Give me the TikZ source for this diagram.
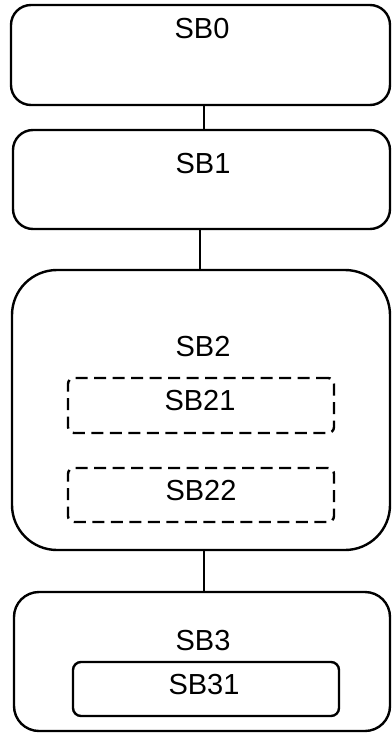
\documentclass[tikz,border=0pt]{standalone}
\usepackage{fontspec}
\setmainfont{Liberation Sans}
\begin{document}
\begin{tikzpicture}[x=1pt,y=-1pt,
  box/.style={draw,line width=2.4pt,inner sep=0pt,outer sep=0pt},
  dbox/.style={draw,line width=2.4pt,inner sep=0pt,outer sep=0pt,dash pattern=on 12pt off 6.5pt,rounded corners=6pt},
  lbl/.style={anchor=base,inner sep=0pt,font=\fontsize{29}{32}\selectfont},
  conn/.style={line width=1.4pt}]
\useasboundingbox (0,0) rectangle (391,733);
\node[box,rounded corners=20pt,minimum width=379pt,minimum height=100pt] (sb0) at (200.5,55) {};
\node[box,rounded corners=20pt,minimum width=377pt,minimum height=99pt] (sb1) at (201.5,179.5) {};
\node[box,rounded corners=45pt,minimum width=378pt,minimum height=280pt] (sb2) at (201,410) {};
\node[dbox,minimum width=266pt,minimum height=55pt] (sb21) at (201,405.5) {};
\node[dbox,minimum width=266pt,minimum height=54pt] (sb22) at (201,495) {};
\node[box,rounded corners=25pt,minimum width=376pt,minimum height=139pt] (sb3) at (202,661.5) {};
\node[box,rounded corners=8pt,minimum width=266pt,minimum height=54pt] (sb31) at (206,689) {};
\node[lbl] (t0) at (202,38.5) {SB0};
\node[lbl] (t1) at (203,173.5) {SB1};
\node[lbl] (t2) at (203,356.5) {SB2};
\node[lbl] (t21) at (200,410) {SB21};
\node[lbl] (t22) at (201,500) {SB22};
\node[lbl] (t3) at (203,650) {SB3};
\node[lbl] (t31) at (204,694) {SB31};
\draw[conn] ([xshift=3.5pt]sb0.south) -- ([xshift=2.5pt]sb1.north);
\draw[conn] ([xshift=-1.5pt]sb1.south) -- ([xshift=-1pt]sb2.north);
\draw[conn] ([xshift=3pt]sb2.south) -- ([xshift=2pt]sb3.north);
\end{tikzpicture}
\end{document}
